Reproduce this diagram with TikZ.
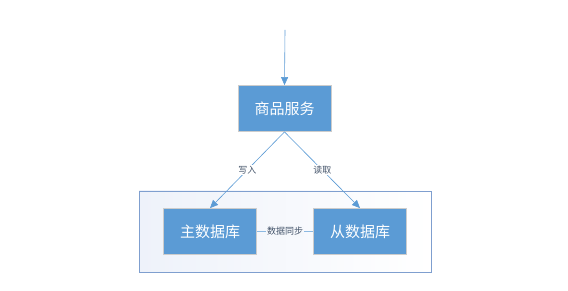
\documentclass[tikz,border=0pt]{standalone}
\usepackage{fontspec}
\newfontfamily\cjk{Noto Sans CJK SC}
\usetikzlibrary{arrows.meta}
\definecolor{boxblue}{HTML}{5B9BD5}
\definecolor{lineblue}{HTML}{5B9BD5}
\definecolor{lbltext}{HTML}{44546A}
\definecolor{contborder}{HTML}{7F9FCF}
\definecolor{contfill}{HTML}{EEF2FA}
\tikzset{
  box/.style={draw=black!20, line width=0.8pt, fill=boxblue, text=white, font=\cjk\fontsize{15}{17}\selectfont, minimum width=93pt, minimum height=46pt, inner sep=0pt},
  conn/.style={draw=lineblue, line width=0.6pt, -{Triangle[length=8pt,width=7pt]}},
  lbl/.style={font=\cjk\fontsize{9}{10}\selectfont, text=lbltext, fill=white, inner sep=1pt}
}
\begin{document}
\begin{tikzpicture}[x=1pt,y=-1pt]
\useasboundingbox (0,0) rectangle (568,291);
\fill[white] (0,0) rectangle (568,291);
\node[draw=contborder, line width=0.8pt, left color=contfill, right color=white, minimum width=292pt, minimum height=81pt, inner sep=0pt] (cont) at (285,231.5) {};
\node[box] (svc) at (284.5,108.5) {商品服务};
\node[box] (master) at (210,231.5) {主数据库};
\node[box] (slave) at (360,231.5) {从数据库};
\coordinate (top) at (285,30);
\draw[conn] (top) -- (svc.north);
\draw[conn] (svc.south) -- node[lbl, pos=0.5] {写入} (master.north);
\draw[conn] (svc.south) -- node[lbl, pos=0.5] {读取} (slave.north);
\draw[draw=lineblue!70, line width=1.8pt] (master.east) -- node[lbl, fill=contfill!50] {数据同步} (slave.west);
\end{tikzpicture}
\end{document}
